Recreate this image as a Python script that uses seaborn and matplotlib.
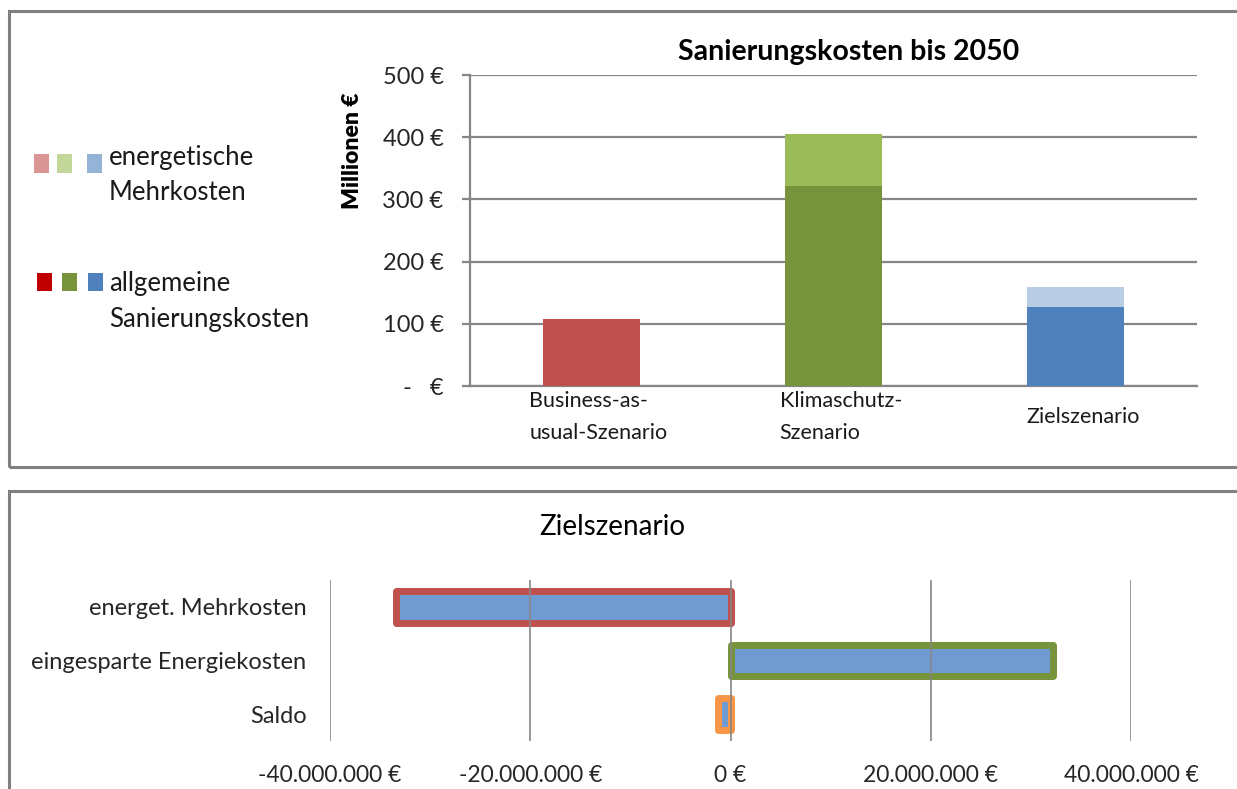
import matplotlib
matplotlib.use("Agg")
import matplotlib.pyplot as plt
from matplotlib.patches import Rectangle
import seaborn as sns
import pandas as pd
import numpy as np

# ---------------- data ----------------
scenarios = ["Business-as-\nusual-Szenario", "Klimaschutz-\nSzenario", "Zielszenario"]
allgemeine_kosten = [108, 322, 127]          # Mio. €
energetische_mehrkosten = [0, 83, 32]        # Mio. €
y_ticks = [0, 100, 200, 300, 400, 500]
y_tick_labels = ["-   €", "100 €", "200 €", "300 €", "400 €", "500 €"]

bilanz_labels = ["energet. Mehrkosten", "eingesparte Energiekosten", "Saldo"]
bilanz_values = [-33.4e6, 32.2e6, -1.2e6]
x_ticks = [-40e6, -20e6, 0, 20e6, 40e6]
x_tick_labels = ["-40.000.000 €", "-20.000.000 €", "0 €", "20.000.000 €", "40.000.000 €"]

dark_colors = ["#C0504D", "#77933C", "#4F81BD"]
light_colors = ["#C0504D", "#9BBB59", "#B9CDE5"]
legend_light = ["#DA9694", "#C4D79B", "#95B3D7"]
legend_dark = ["#C00000", "#77933C", "#4F81BD"]
edge_colors = ["#C0504D", "#77933C", "#F79646"]
fill_blue = "#6F9BD0"
grid_gray = "#868686"

# ---------------- figure ----------------
sns.set_theme(style="white")
plt.rcParams["font.family"] = ["Lato", "DejaVu Sans"]
W, H = 1237, 789
fig = plt.figure(figsize=(W / 100, H / 100), dpi=100)

def fx(px):
    return px / W

def fy(py):
    return 1 - py / H

# panel borders
fig.patches.append(Rectangle((fx(9), fy(467)), fx(1240), fy(11) - fy(467), transform=fig.transFigure,
                             fill=False, edgecolor="#808080", lw=2.2))
fig.patches.append(Rectangle((fx(9), fy(800)), fx(1240), fy(491) - fy(800), transform=fig.transFigure,
                             fill=False, edgecolor="#808080", lw=2.2))

# ---------------- top chart ----------------
ax1 = fig.add_axes([fx(470), fy(386), fx(727), fy(75) - fy(386)])
df = pd.DataFrame({
    "Szenario": scenarios,
    "allgemein": allgemeine_kosten,
    "gesamt": np.array(allgemeine_kosten) + np.array(energetische_mehrkosten),
})
sns.barplot(data=df, x="Szenario", y="gesamt", hue="Szenario", palette=light_colors,
            width=0.4, saturation=1, legend=False, ax=ax1, zorder=3)
sns.barplot(data=df, x="Szenario", y="allgemein", hue="Szenario", palette=dark_colors,
            width=0.4, saturation=1, legend=False, ax=ax1, zorder=3)
for p in ax1.patches:
    p.set_linewidth(0)
ax1.set_ylim(0, 500)
ax1.set_xlim(-0.5, 2.5)
ax1.set_yticks(y_ticks)
ax1.set_yticklabels(y_tick_labels, fontsize=17)
ax1.yaxis.grid(True, color=grid_gray, lw=1.6)
ax1.xaxis.grid(False)
ax1.set_axisbelow(True)
for s in ["top", "right"]:
    ax1.spines[s].set_visible(False)
for s in ["left", "bottom"]:
    ax1.spines[s].set_color(grid_gray)
    ax1.spines[s].set_linewidth(1.6)
ax1.tick_params(axis="y", which="both", left=True, length=6, width=1.6, color=grid_gray, pad=13)
ax1.set_xticks(range(len(scenarios)))
ax1.set_xticklabels([])
ax1.tick_params(axis="x", bottom=False)
ax1.set_xlabel("")
ax1.set_ylabel("")
for i, lab in enumerate(scenarios):
    ax1.text(i + 0.03, (386 - 417) / 311, lab, transform=ax1.get_xaxis_transform(),
             ha="center", va="center", multialignment="left", fontsize=15.5, linespacing=1.75,
             color="#1a1a1a")

fig.text(fx(849), fy(52), "Sanierungskosten bis 2050", ha="center", va="center",
         fontsize=20.5, fontweight="bold", color="black")
fig.text(fx(352), fy(151), "Millionen €", ha="center", va="center", rotation=90,
         fontsize=16.5, fontweight="heavy", color="black")

# legend
light_x = [34, 57, 87]
dark_x = [37, 62, 88]
for x0, c in zip(light_x, legend_light):
    fig.patches.append(Rectangle((fx(x0), fy(173)), fx(15), fy(154) - fy(173),
                                 transform=fig.transFigure, color=c, lw=0))
for x0, c in zip(dark_x, legend_dark):
    fig.patches.append(Rectangle((fx(x0), fy(291)), fx(15), fy(273) - fy(291),
                                 transform=fig.transFigure, color=c, lw=0))
fig.text(fx(109), fy(175), "energetische\nMehrkosten", ha="left", va="center",
         fontsize=18.5, linespacing=1.5, color="#1a1a1a")
fig.text(fx(109), fy(301), "allgemeine\nSanierungskosten", ha="left", va="center",
         fontsize=18.5, linespacing=1.55, color="#1a1a1a")

# ---------------- bottom chart ----------------
ax2 = fig.add_axes([fx(330), fy(741), fx(801), fy(580) - fy(741)])
df2 = pd.DataFrame({"Posten": bilanz_labels, "Wert": bilanz_values})
sns.barplot(data=df2, x="Wert", y="Posten", orient="h", color=fill_blue, saturation=1,
            width=0.59, ax=ax2)
for p, ec in zip(ax2.patches, edge_colors):
    p.set_edgecolor(ec)
    p.set_linewidth(5)
    p.set_joinstyle("round")
ax2.set_xlim(-40e6, 40e6)
ax2.set_ylim(2.5, -0.5)
ax2.set_xticks(x_ticks)
ax2.set_xticklabels(x_tick_labels, fontsize=16.5)
ax2.xaxis.grid(True, color=grid_gray, lw=1.2)
ax2.yaxis.grid(False)
ax2.set_axisbelow(False)
for s in ax2.spines.values():
    s.set_visible(False)
ax2.tick_params(axis="x", bottom=False, pad=11)
ax2.tick_params(axis="y", left=False, pad=11, labelsize=17)
ax2.set_xlabel("")
ax2.set_ylabel("")
fig.text(fx(612), fy(527), "Zielszenario", ha="center", va="center", fontsize=20, color="black")

fig.savefig("out.png", dpi=100)
